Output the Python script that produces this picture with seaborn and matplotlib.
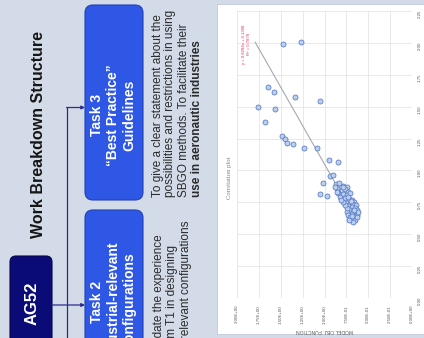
import numpy as np
import matplotlib
matplotlib.use("Agg")
import matplotlib.pyplot as plt
from matplotlib.patches import FancyBboxPatch, Rectangle
import seaborn as sns

# ---- correlation data: reference value (vertical) vs. model objective function (horizontal)
x_vals = [1.988, 2.006, 1.656, 1.614, 1.573, 1.544, 1.499, 1.479, 1.377, 1.270,
          1.249, 1.212, 1.209, 1.173, 1.178, 1.081, 1.063, 0.956, 0.964, 0.899,
          0.815, 0.799,
          0.893, 0.899, 0.878, 0.872, 0.860, 0.846, 0.852, 0.833, 0.820, 0.815,
          0.807, 0.820, 0.789, 0.781, 0.773, 0.833, 0.768, 0.755, 0.747, 0.737,
          0.729, 0.721, 0.716, 0.703, 0.690, 0.690, 0.682, 0.677, 0.669, 0.658,
          0.650, 0.643, 0.650, 0.632, 0.622, 0.611, 0.598, 0.611, 0.632, 0.703,
          0.729, 0.755, 0.768, 0.677, 0.872, 0.872, 0.794, 0.760, 0.690, 0.640]
model_obj = [1.471, 1.269, 1.642, 1.577, 1.341, 1.055, 1.756, 1.562, 1.683, 1.489,
             1.448, 1.429, 1.364, 1.230, 1.089, 0.949, 0.846, 0.937, 0.899, 1.013,
             1.051, 0.975,
             0.869, 0.830, 0.792, 0.747, 0.853, 0.804, 0.766, 0.728, 0.842, 0.785,
             0.747, 0.709, 0.823, 0.766, 0.716, 0.861, 0.690, 0.663, 0.709, 0.678,
             0.640, 0.728, 0.690, 0.651, 0.625, 0.709, 0.670, 0.747, 0.640, 0.690,
             0.728, 0.663, 0.625, 0.709, 0.670, 0.651, 0.678, 0.716, 0.632, 0.747,
             0.766, 0.792, 0.815, 0.613, 0.880, 0.785, 0.728, 0.700, 0.660, 0.690]

x_ticks = [0.0, 0.25, 0.5, 0.75, 1.0, 1.25, 1.5, 1.75, 2.0, 2.25]
obj_ticks = [0.0, 0.25, 0.5, 0.75, 1.0, 1.25, 1.5, 1.75, 2.0]

trend_slope = 0.8284
trend_intercept = 0.1308
r_squared = 0.7878

# ---- slide texts
slide_title = "Work Breakdown Structure"
root_label = "AG52"
task3_label = "Task 3\n\u201cBest Practice\u201d\nGuidelines"
task2_label = "Task 2\nIndustrial-relevant\nConfigurations"
task3_lines = ["To give a clear statement about the",
               "possibilities and restrictions in using",
               "SBGO methods. To facilitate their",
               "use in aeronautic industries"]
task2_lines = ["To consolidate the experience",
               "gained from T1 in designing",
               "industrial-relevant configurations"]

W, H = 424, 338
fig = plt.figure(figsize=(W / 100, H / 100), dpi=100)
plt.rcParams['font.family'] = ['Liberation Sans', 'DejaVu Sans']

# full-figure canvas in pixel units (y grows downward)
bg = fig.add_axes([0, 0, 1, 1])
bg.set_xlim(0, W)
bg.set_ylim(H, 0)
bg.axis('off')

slide_bg = '#d2dbe7'
box_blue = '#2f57e6'
box_edge = '#2140b8'
navy = '#0b0b78'
line_col = '#2b2b8f'

bg.add_patch(Rectangle((0, 0), W, H, facecolor=slide_bg, edgecolor='none'))

# boxes
bg.add_patch(FancyBboxPatch((85, 5), 58, 195, boxstyle="round,pad=0,rounding_size=8",
                            facecolor=box_blue, edgecolor=box_edge, lw=0.8))
bg.add_patch(FancyBboxPatch((85, 210), 58, 150, boxstyle="round,pad=0,rounding_size=8",
                            facecolor=box_blue, edgecolor=box_edge, lw=0.8))
bg.add_patch(FancyBboxPatch((10, 256), 42, 110, boxstyle="round,pad=0,rounding_size=6",
                            facecolor=navy, edgecolor='#050550', lw=0.8))

# connectors
bg.plot([67, 67], [107.5, 345], color=line_col, lw=0.9)
arrow = dict(arrowstyle='-|>', color=line_col, lw=0.9, mutation_scale=5, shrinkA=0, shrinkB=0)
bg.annotate('', xy=(85, 107.5), xytext=(66.6, 107.5), arrowprops=arrow)
bg.annotate('', xy=(85, 305), xytext=(52, 305), arrowprops=arrow)

# slide texts
bg.text(39, 135, slide_title, rotation=90, ha='center', va='center',
        fontsize=11.5, fontweight='bold', color='#151515')
bg.text(32, 303, root_label, rotation=90, ha='center', va='center',
        fontsize=12, fontweight='bold', color='white')
bg.text(113, 115, task3_label, rotation=90, ha='center', va='center', multialignment='center',
        fontsize=10, fontweight='bold', color='white', linespacing=1.2)
bg.text(113, 302, task2_label, rotation=90, ha='center', va='center', multialignment='center',
        fontsize=10, fontweight='bold', color='white', linespacing=1.2)

for xpos, line in zip([157.5, 170.5, 184, 197.5], task3_lines):
    bold = line.startswith("use in")
    bg.text(xpos, 197, line, rotation=90, ha='center', va='bottom', fontsize=8.5,
            fontweight='bold' if bold else 'normal', color='#2a2a2a')
for xpos, line in zip([159, 172, 185.5], task2_lines):
    bg.text(xpos, 390, line, rotation=90, ha='center', va='bottom', fontsize=8.5, color='#2a2a2a')

# chart panel
bg.add_patch(Rectangle((217, 4), 210, 330, facecolor='white', edgecolor='#bfc9d6', lw=0.6))

# ---- correlation scatter
ax = fig.add_axes([237 / W, (H - 298) / H, 175 / W, 287 / H])
ax.set_facecolor('white')
sns.scatterplot(x=model_obj, y=x_vals, ax=ax, s=13, color='#bccff0',
                edgecolor='#5478c2', linewidth=0.55, zorder=3, legend=False)

lo, hi = min(x_vals), max(x_vals)
xs = np.array([lo, hi])
ax.plot(trend_slope * xs + trend_intercept, xs, color='#a3a9b5', lw=0.8, zorder=2)

ax.set_xlim(2.0, 0.0)
ax.set_ylim(0.0, 2.25)
ax.set_xticks(obj_ticks)
ax.set_xticklabels([f"{v:.2E}" for v in obj_ticks])
ax.set_yticks(x_ticks)
ax.set_yticklabels([f"{v:.2f}" for v in x_ticks])
ax.yaxis.tick_right()
ax.tick_params(axis='x', length=0, labelsize=3.2, labelcolor='#595959', pad=5, labelrotation=90)
ax.tick_params(axis='y', length=0, labelsize=3.2, labelcolor='#595959', pad=4.3, labelrotation=90)
ax.grid(True, color='#e0e0e0', lw=0.5)
ax.set_axisbelow(True)
for sp in ax.spines.values():
    sp.set_visible(False)
ax.set_xlabel("MODEL OBJ. FUNCTION", fontsize=3.6, color='#595959', rotation=180)
ax.xaxis.set_label_coords(0.5, -0.103)
ax.set_ylabel("")

fig.text(229.5 / W, 1 - 178 / H, "Correlation plot", rotation=90, ha='center', va='center',
         fontsize=4.8, color='#7f7f7f', family=['Liberation Serif', 'DejaVu Serif'])
fig.text(246.5 / W, 1 - 44 / H,
         f"y = {trend_slope:.4f}x + {trend_intercept:.4f}\nR\u00b2 = {r_squared:.4f}",
         rotation=90, ha='center', va='center', multialignment='center',
         fontsize=3.1, color='#e8355a')

fig.savefig("out.png", dpi=100)
